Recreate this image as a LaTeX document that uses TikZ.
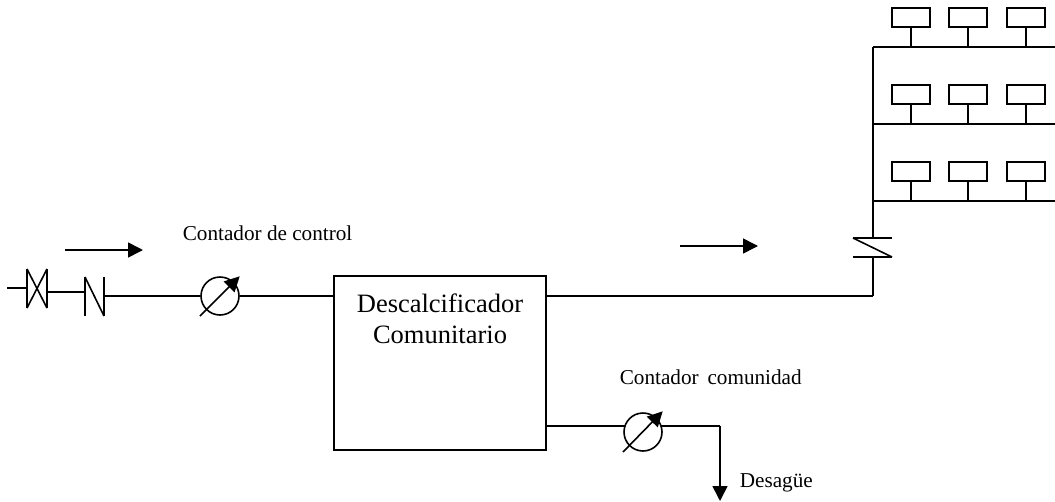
\documentclass[tikz,border=0pt]{standalone}
\usepackage{fontspec}
\setmainfont{Liberation Serif}
\usetikzlibrary{arrows.meta}
\begin{document}
\begin{tikzpicture}[x=1pt, y=-1pt, line width=1.6pt,
    box/.style = {draw, minimum width=38pt, minimum height=19pt, inner sep=0pt},
    meter/.style = {draw, circle, minimum size=38pt, inner sep=0pt},
    ar/.style = {-{Triangle[length=15pt, width=15pt]}, shorten >=-1pt},
    lab/.style = {font=\fontsize{21.2}{21}\selectfont, inner sep=0pt, anchor=base west}]
    \useasboundingbox (0,0) rectangle (1055,501);

    % main softener
    \node[draw, minimum width=212pt, minimum height=174pt, inner sep=0pt] (soft) at (440,363) {};
    \node[lab, font=\fontsize{26.5}{31}\selectfont, anchor=base] (softlab) at (440,312) {Descalcificador};
    \node[lab, font=\fontsize{26.5}{31}\selectfont, anchor=base] (softlab2) at (440,343) {Comunitario};

    % inlet valve and check valve
    \coordinate (in) at (7,288);
    \coordinate (vl) at (27,269);
    \coordinate (vr) at (47,269);
    \coordinate (vlb) at (27,308);
    \coordinate (vrb) at (47,308);
    \draw (in) -- (27,288);
    \draw (vl) -- (vlb);
    \draw (vr) -- (vrb);
    \draw (vl) -- (vrb);
    \draw (vr) -- (vlb);
    \coordinate (cl) at (85,277);
    \coordinate (clb) at (85,316);
    \coordinate (cr) at (104,277);
    \coordinate (crb) at (104,316);
    \draw (47,292) -- (85,292);
    \draw (cl) -- (clb);
    \draw (cr) -- (crb);
    \draw (cl) -- (crb);

    % meters
    \node[meter] (m1) at (220,296) {};
    \draw[ar] (200,316) -- (239,277);
    \node[meter] (m2) at (643,432) {};
    \draw[ar] (623,452) -- (662,412);

    \draw (cr |- m1) -- (m1);
    \draw (m1) -- (soft.west |- m1);
    \coordinate (softout) at (546,426);
    \coordinate (drain) at (720,426);
    \draw (softout) -- (625,426);
    \draw (661,426) -- (drain);
    \draw[ar] (drain) -- (720,500);

    % riser
    \coordinate (riser) at (873,296);
    \draw (soft.east |- riser) -- (riser);
    \coordinate (cvb) at (873,257);
    \draw (riser) -- (cvb);
    \draw (853,257) -- (892,257);
    \draw (853,238) -- (892,238);
    \draw (853,238) -- (892,257);
    \draw (873,238) -- (873,47);

    % branches with flats
    \foreach \y/\n in {47/a,124/b,201/c}{
        \draw (873,\y) -- (1055,\y);
        \foreach \x/\k in {911/1,968/2,1026/3}{
            \node[box] (\n\k) at (\x,\y-29.5) {};
            \draw (\n\k) -- (\x,\y);
        }
    }

    % flow arrows
    \draw[ar] (65,250) -- (142,250);
    \draw[ar] (680,246) -- (757,246);

    \node[lab] (l1) at (182,240) {Contador de control};
    \node[lab] (l2) at (619,384) {Contador\, comunidad};
    \node[lab] (l3) at (739,487) {Desagüe};
\end{tikzpicture}
\end{document}
